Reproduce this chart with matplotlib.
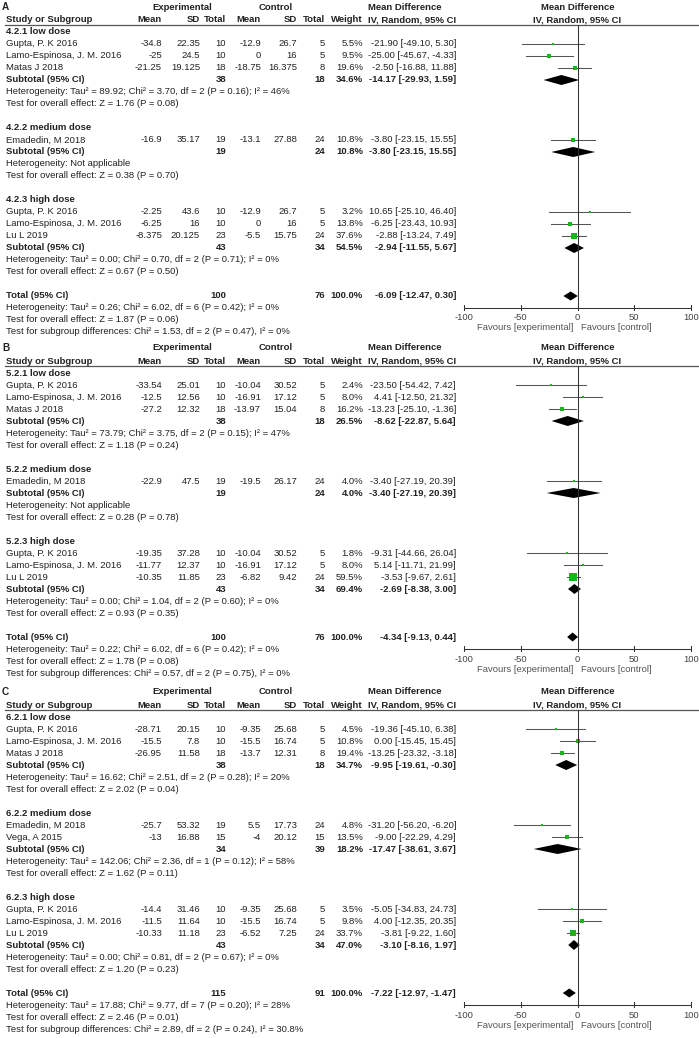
import numpy as np
import matplotlib
matplotlib.use("Agg")
import matplotlib.pyplot as plt

plt.rcParams['font.family'] = ['Liberation Sans', 'DejaVu Sans']

# ---- panel A ----
a_groups = ["4.2.1 low dose", "4.2.2 medium dose", "4.2.3 high dose"]
a_study = ["Gupta, P. K 2016", "Lamo-Espinosa, J. M. 2016", "Matas J 2018",
           "Emadedin, M 2018",
           "Gupta, P. K 2016", "Lamo-Espinosa, J. M. 2016", "Lu L 2019"]
a_group_of = [0, 0, 0, 1, 2, 2, 2]
a_exp_mean = [-34.8, -25, -21.25, -16.9, -2.25, -6.25, -8.375]
a_exp_sd = [22.35, 24.5, 19.125, 35.17, 43.6, 16, 20.125]
a_exp_n = [10, 10, 18, 19, 10, 10, 23]
a_ctl_mean = [-12.9, 0, -18.75, -13.1, -12.9, 0, -5.5]
a_ctl_sd = [26.7, 16, 16.375, 27.88, 26.7, 16, 15.75]
a_ctl_n = [5, 5, 8, 24, 5, 5, 24]
a_weight = [5.5, 9.5, 19.6, 10.8, 3.2, 13.8, 37.6]
a_md = [-21.90, -25.00, -2.50, -3.80, 10.65, -6.25, -2.88]
a_lo = [-49.10, -45.67, -16.88, -23.15, -25.10, -23.43, -13.24]
a_hi = [5.30, -4.33, 11.88, 15.55, 46.40, 10.93, 7.49]
# one entry per subgroup, last entry is the overall total
a_sum_exp_n = [38, 19, 43, 100]
a_sum_ctl_n = [18, 24, 34, 76]
a_sum_weight = [34.6, 10.8, 54.5, 100.0]
a_sum_md = [-14.17, -3.80, -2.94, -6.09]
a_sum_lo = [-29.93, -23.15, -11.55, -12.47]
a_sum_hi = [1.59, 15.55, 5.67, 0.30]
a_het = ["Tau² = 89.92; Chi² = 3.70, df = 2 (P = 0.16); I² = 46%",
         "Not applicable",
         "Tau² = 0.00; Chi² = 0.70, df = 2 (P = 0.71); I² = 0%",
         "Tau² = 0.26; Chi² = 6.02, df = 6 (P = 0.42); I² = 0%"]
a_z = ["Z = 1.76 (P = 0.08)", "Z = 0.38 (P = 0.70)",
       "Z = 0.67 (P = 0.50)", "Z = 1.87 (P = 0.06)"]
a_subgroup = "Chi² = 1.53, df = 2 (P = 0.47), I² = 0%"

# ---- panel B ----
b_groups = ["5.2.1 low dose", "5.2.2 medium dose", "5.2.3 high dose"]
b_study = ["Gupta, P. K 2016", "Lamo-Espinosa, J. M. 2016", "Matas J 2018",
           "Emadedin, M 2018",
           "Gupta, P. K 2016", "Lamo-Espinosa, J. M. 2016", "Lu L 2019"]
b_group_of = [0, 0, 0, 1, 2, 2, 2]
b_exp_mean = [-33.54, -12.5, -27.2, -22.9, -19.35, -11.77, -10.35]
b_exp_sd = [25.01, 12.56, 12.32, 47.5, 37.28, 12.37, 11.85]
b_exp_n = [10, 10, 18, 19, 10, 10, 23]
b_ctl_mean = [-10.04, -16.91, -13.97, -19.5, -10.04, -16.91, -6.82]
b_ctl_sd = [30.52, 17.12, 15.04, 26.17, 30.52, 17.12, 9.42]
b_ctl_n = [5, 5, 8, 24, 5, 5, 24]
b_weight = [2.4, 8.0, 16.2, 4.0, 1.8, 8.0, 59.5]
b_md = [-23.50, 4.41, -13.23, -3.40, -9.31, 5.14, -3.53]
b_lo = [-54.42, -12.50, -25.10, -27.19, -44.66, -11.71, -9.67]
b_hi = [7.42, 21.32, -1.36, 20.39, 26.04, 21.99, 2.61]
b_sum_exp_n = [38, 19, 43, 100]
b_sum_ctl_n = [18, 24, 34, 76]
b_sum_weight = [26.5, 4.0, 69.4, 100.0]
b_sum_md = [-8.62, -3.40, -2.69, -4.34]
b_sum_lo = [-22.87, -27.19, -8.38, -9.13]
b_sum_hi = [5.64, 20.39, 3.00, 0.44]
b_het = ["Tau² = 73.79; Chi² = 3.75, df = 2 (P = 0.15); I² = 47%",
         "Not applicable",
         "Tau² = 0.00; Chi² = 1.04, df = 2 (P = 0.60); I² = 0%",
         "Tau² = 0.22; Chi² = 6.02, df = 6 (P = 0.42); I² = 0%"]
b_z = ["Z = 1.18 (P = 0.24)", "Z = 0.28 (P = 0.78)",
       "Z = 0.93 (P = 0.35)", "Z = 1.78 (P = 0.08)"]
b_subgroup = "Chi² = 0.57, df = 2 (P = 0.75), I² = 0%"

# ---- panel C ----
c_groups = ["6.2.1 low dose", "6.2.2 medium dose", "6.2.3 high dose"]
c_study = ["Gupta, P. K 2016", "Lamo-Espinosa, J. M. 2016", "Matas J 2018",
           "Emadedin, M 2018", "Vega, A 2015",
           "Gupta, P. K 2016", "Lamo-Espinosa, J. M. 2016", "Lu L 2019"]
c_group_of = [0, 0, 0, 1, 1, 2, 2, 2]
c_exp_mean = [-28.71, -15.5, -26.95, -25.7, -13, -14.4, -11.5, -10.33]
c_exp_sd = [20.15, 7.8, 11.58, 53.32, 16.88, 31.46, 11.64, 11.18]
c_exp_n = [10, 10, 18, 19, 15, 10, 10, 23]
c_ctl_mean = [-9.35, -15.5, -13.7, 5.5, -4, -9.35, -15.5, -6.52]
c_ctl_sd = [25.68, 16.74, 12.31, 17.73, 20.12, 25.68, 16.74, 7.25]
c_ctl_n = [5, 5, 8, 24, 15, 5, 5, 24]
c_weight = [4.5, 10.8, 19.4, 4.8, 13.5, 3.5, 9.8, 33.7]
c_md = [-19.36, 0.00, -13.25, -31.20, -9.00, -5.05, 4.00, -3.81]
c_lo = [-45.10, -15.45, -23.32, -56.20, -22.29, -34.83, -12.35, -9.22]
c_hi = [6.38, 15.45, -3.18, -6.20, 4.29, 24.73, 20.35, 1.60]
c_sum_exp_n = [38, 34, 43, 115]
c_sum_ctl_n = [18, 39, 34, 91]
c_sum_weight = [34.7, 18.2, 47.0, 100.0]
c_sum_md = [-9.95, -17.47, -3.10, -7.22]
c_sum_lo = [-19.61, -38.61, -8.16, -12.97]
c_sum_hi = [-0.30, 3.67, 1.97, -1.47]
c_het = ["Tau² = 16.62; Chi² = 2.51, df = 2 (P = 0.28); I² = 20%",
         "Tau² = 142.06; Chi² = 2.36, df = 1 (P = 0.12); I² = 58%",
         "Tau² = 0.00; Chi² = 0.81, df = 2 (P = 0.67); I² = 0%",
         "Tau² = 17.88; Chi² = 9.77, df = 7 (P = 0.20); I² = 28%"]
c_z = ["Z = 2.02 (P = 0.04)", "Z = 1.62 (P = 0.11)",
       "Z = 1.20 (P = 0.23)", "Z = 2.46 (P = 0.01)"]
c_subgroup = "Chi² = 2.89, df = 2 (P = 0.24), I² = 30.8%"

ticks = [-100, -50, 0, 50, 100]

panels = [
    dict(label="A", top=7, groups=a_groups, study=a_study, grp=a_group_of,
         em=a_exp_mean, esd=a_exp_sd, en=a_exp_n, cm=a_ctl_mean, csd=a_ctl_sd,
         cn=a_ctl_n, w=a_weight, md=a_md, lo=a_lo, hi=a_hi,
         sen=a_sum_exp_n, scn=a_sum_ctl_n, sw=a_sum_weight, smd=a_sum_md,
         slo=a_sum_lo, shi=a_sum_hi, het=a_het, z=a_z, sub=a_subgroup),
    dict(label="B", top=348, groups=b_groups, study=b_study, grp=b_group_of,
         em=b_exp_mean, esd=b_exp_sd, en=b_exp_n, cm=b_ctl_mean, csd=b_ctl_sd,
         cn=b_ctl_n, w=b_weight, md=b_md, lo=b_lo, hi=b_hi,
         sen=b_sum_exp_n, scn=b_sum_ctl_n, sw=b_sum_weight, smd=b_sum_md,
         slo=b_sum_lo, shi=b_sum_hi, het=b_het, z=b_z, sub=b_subgroup),
    dict(label="C", top=692, groups=c_groups, study=c_study, grp=c_group_of,
         em=c_exp_mean, esd=c_exp_sd, en=c_exp_n, cm=c_ctl_mean, csd=c_ctl_sd,
         cn=c_ctl_n, w=c_weight, md=c_md, lo=c_lo, hi=c_hi,
         sen=c_sum_exp_n, scn=c_sum_ctl_n, sw=c_sum_weight, smd=c_sum_md,
         slo=c_sum_lo, shi=c_sum_hi, het=c_het, z=c_z, sub=c_subgroup),
]

W, H = 699, 1038
fig = plt.figure(figsize=(W / 100, H / 100), dpi=100)
fig.patch.set_facecolor("white")

# text table drawn in pixel coordinates
bg = fig.add_axes([0, 0, 1, 1])
bg.set_xlim(0, W)
bg.set_ylim(H, 0)
bg.axis("off")

# forest plot axes, -100..100 spans pixels 464..691
fa = fig.add_axes([464 / W, 0, 227 / W, 1])
fa.set_xlim(-100, 100)
fa.set_ylim(H, 0)
fa.axis("off")

FS = 6.8
TXT = "#222222"
GREEN = "#17b517"
PITCH = 12


def txt(x, y, s, ha="left", bold=False, size=FS, color=TXT, ax=bg):
    ax.text(x, y, s, ha=ha, va="center", fontsize=size, color=color,
            fontweight="bold" if bold else "normal", clip_on=False)


def fmt_ci(md, lo, hi):
    return f"{md:.2f} [{lo:.2f}, {hi:.2f}]"


def diamond(md, lo, hi, y, h=5):
    fa.fill([lo, md, hi, md], [y, y - h, y, y + h], color="black", lw=0, clip_on=False)


for p in panels:
    top = p["top"]
    # header
    txt(2, top, p["label"], bold=True, size=7.2)
    txt(182, top, "Experimental", ha="center", bold=True)
    txt(276, top, "Control", ha="center", bold=True)
    txt(405, top, "Mean Difference", ha="center", bold=True)
    txt(0, top, "Mean Difference", ha="center", bold=True, ax=fa)
    hy = top + 13
    txt(6, hy, "Study or Subgroup", bold=True)
    for x, s in [(162, "Mean"), (200, "SD"), (226, "Total"), (261, "Mean"),
                 (297, "SD"), (325, "Total"), (363, "Weight"),
                 (456, "IV, Random, 95% CI")]:
        txt(x, hy, s, ha="right", bold=True)
    txt(0, hy, "IV, Random, 95% CI", ha="center", bold=True, ax=fa)
    line_y = hy + 5
    bg.plot([5, W], [line_y, line_y], color="#555555", lw=0.9)

    y = hy + PITCH
    for g, gname in enumerate(p["groups"]):
        txt(6, y, gname, bold=True)
        y += PITCH
        for i in range(len(p["study"])):
            if p["grp"][i] != g:
                continue
            txt(6, y, p["study"][i])
            txt(162, y, f"{p['em'][i]:g}", ha="right")
            txt(200, y, f"{p['esd'][i]:g}", ha="right")
            txt(226, y, f"{p['en'][i]}", ha="right")
            txt(261, y, f"{p['cm'][i]:g}", ha="right")
            txt(297, y, f"{p['csd'][i]:g}", ha="right")
            txt(325, y, f"{p['cn'][i]}", ha="right")
            txt(363, y, f"{p['w'][i]:.1f}%", ha="right")
            txt(456, y, fmt_ci(p["md"][i], p["lo"][i], p["hi"][i]), ha="right")
            fa.plot([p["lo"][i], p["hi"][i]], [y, y], color="#555555", lw=0.75,
                    clip_on=False)
            side = max(2.0, np.sqrt(p["w"][i]))
            fa.plot(p["md"][i], y, marker="s", ms=side * 0.72, color=GREEN,
                    mec=GREEN, mew=0, clip_on=False)
            y += PITCH
        txt(6, y, "Subtotal (95% CI)", bold=True)
        txt(226, y, f"{p['sen'][g]}", ha="right", bold=True)
        txt(325, y, f"{p['scn'][g]}", ha="right", bold=True)
        txt(363, y, f"{p['sw'][g]:.1f}%", ha="right", bold=True)
        txt(456, y, fmt_ci(p["smd"][g], p["slo"][g], p["shi"][g]), ha="right", bold=True)
        diamond(p["smd"][g], p["slo"][g], p["shi"][g], y)
        y += PITCH
        txt(6, y, "Heterogeneity: " + p["het"][g])
        y += PITCH
        txt(6, y, "Test for overall effect: " + p["z"][g])
        y += 2 * PITCH

    # overall total
    t = len(p["groups"])
    txt(6, y, "Total (95% CI)", bold=True)
    txt(226, y, f"{p['sen'][t]}", ha="right", bold=True)
    txt(325, y, f"{p['scn'][t]}", ha="right", bold=True)
    txt(363, y, f"{p['sw'][t]:.1f}%", ha="right", bold=True)
    txt(456, y, fmt_ci(p["smd"][t], p["slo"][t], p["shi"][t]), ha="right", bold=True)
    diamond(p["smd"][t], p["slo"][t], p["shi"][t], y, h=4.5)
    axis_y = y + PITCH
    txt(6, axis_y, "Heterogeneity: " + p["het"][t])
    txt(6, axis_y + PITCH, "Test for overall effect: " + p["z"][t])
    txt(6, axis_y + 2 * PITCH, "Test for subgroup differences: " + p["sub"])

    # forest axis
    fa.plot([0, 0], [line_y, axis_y], color="#333333", lw=0.75, clip_on=False)
    fa.plot([ticks[0], ticks[-1]], [axis_y, axis_y], color="#333333", lw=0.75,
            clip_on=False)
    for tk in ticks:
        fa.plot([tk, tk], [axis_y - 3, axis_y + 2], color="#333333", lw=0.75,
                clip_on=False)
        txt(tk, axis_y + 10, f"{tk}", ha="center", color="#444444", ax=fa)
    txt(-3.5, axis_y + 20, "Favours [experimental]", ha="right", color="#555555", ax=fa)
    txt(3, axis_y + 20, "Favours [control]", ha="left", color="#555555", ax=fa)

fig.savefig("out.png", dpi=100, facecolor="white")
